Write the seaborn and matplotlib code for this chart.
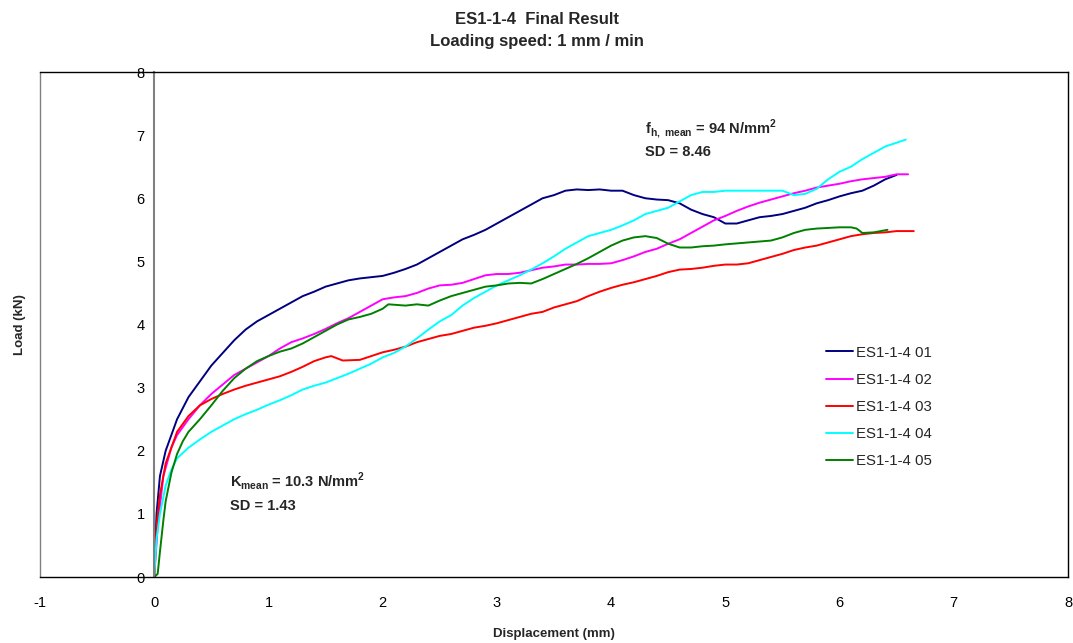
import pandas as pd
import seaborn as sns
import matplotlib.pyplot as plt

# Load-displacement readings for each specimen (mm, kN)
x01 = [0, 0.02, 0.05, 0.1, 0.2, 0.3, 0.4, 0.5, 0.6, 0.7, 0.8, 0.9, 1.0, 1.1, 1.2, 1.3, 1.4, 1.5, 1.6, 1.7, 1.8, 1.9,
       2.0, 2.1, 2.2, 2.3, 2.4, 2.5, 2.6, 2.7, 2.8, 2.9, 3.0, 3.1, 3.2, 3.3, 3.4, 3.5, 3.6, 3.7, 3.8, 3.9, 4.0, 4.1,
       4.2, 4.3, 4.4, 4.5, 4.6, 4.7, 4.8, 4.9, 5.0, 5.1, 5.2, 5.3, 5.4, 5.5, 5.6, 5.7, 5.8, 5.9, 6.0, 6.1, 6.2, 6.3,
       6.4, 6.5]
y01 = [0, 1.0, 1.6, 2.0, 2.5, 2.85, 3.1, 3.35, 3.55, 3.75, 3.92, 4.05, 4.15, 4.25, 4.35, 4.45, 4.52, 4.6, 4.65, 4.7,
       4.73, 4.75, 4.77, 4.82, 4.88, 4.95, 5.05, 5.15, 5.25, 5.35, 5.42, 5.5, 5.6, 5.7, 5.8, 5.9, 6.0, 6.05, 6.12,
       6.14, 6.13, 6.14, 6.12, 6.12, 6.05, 6.0, 5.98, 5.97, 5.92, 5.82, 5.75, 5.7, 5.6, 5.6, 5.65, 5.7, 5.72, 5.75,
       5.8, 5.85, 5.92, 5.97, 6.03, 6.08, 6.12, 6.2, 6.3, 6.37]

x02 = [0, 0.03, 0.08, 0.15, 0.2, 0.3, 0.4, 0.5, 0.6, 0.7, 0.8, 0.9, 1.0, 1.1, 1.2, 1.3, 1.4, 1.5, 1.6, 1.7, 1.8,
       1.9, 2.0, 2.1, 2.2, 2.3, 2.4, 2.5, 2.6, 2.7, 2.8, 2.9, 3.0, 3.1, 3.2, 3.3, 3.4, 3.5, 3.6, 3.7, 3.8, 3.9, 4.0,
       4.1, 4.2, 4.3, 4.4, 4.5, 4.6, 4.7, 4.8, 4.9, 5.0, 5.1, 5.2, 5.3, 5.4, 5.5, 5.6, 5.7, 5.8, 5.9, 6.0, 6.1, 6.2,
       6.3, 6.4, 6.5, 6.6]
y02 = [0, 0.8, 1.6, 2.05, 2.25, 2.5, 2.72, 2.9, 3.05, 3.2, 3.3, 3.4, 3.5, 3.62, 3.72, 3.78, 3.85, 3.93, 4.02, 4.1,
       4.2, 4.3, 4.4, 4.43, 4.45, 4.5, 4.57, 4.62, 4.63, 4.66, 4.72, 4.78, 4.8, 4.8, 4.82, 4.86, 4.9, 4.92, 4.95,
       4.95, 4.96, 4.96, 4.97, 5.02, 5.08, 5.15, 5.2, 5.28, 5.35, 5.45, 5.55, 5.65, 5.72, 5.8, 5.87, 5.93, 5.98,
       6.03, 6.08, 6.12, 6.17, 6.2, 6.23, 6.27, 6.3, 6.32, 6.34, 6.38, 6.38]

x03 = [0, 0.02, 0.05, 0.1, 0.15, 0.2, 0.3, 0.4, 0.5, 0.6, 0.7, 0.8, 0.9, 1.0, 1.1, 1.2, 1.3, 1.4, 1.5, 1.55, 1.65,
       1.8, 1.9, 2.0, 2.1, 2.2, 2.3, 2.4, 2.5, 2.6, 2.7, 2.8, 2.9, 3.0, 3.1, 3.2, 3.3, 3.4, 3.5, 3.6, 3.7, 3.8, 3.9,
       4.0, 4.1, 4.2, 4.3, 4.4, 4.5, 4.6, 4.7, 4.8, 4.9, 5.0, 5.1, 5.2, 5.3, 5.4, 5.5, 5.6, 5.7, 5.8, 5.9, 6.0, 6.1,
       6.2, 6.3, 6.4, 6.5, 6.65]
y03 = [0, 0.8, 1.3, 1.8, 2.05, 2.3, 2.55, 2.72, 2.82, 2.9, 2.97, 3.03, 3.08, 3.13, 3.18, 3.25, 3.33, 3.42, 3.48,
       3.5, 3.43, 3.44, 3.5, 3.56, 3.6, 3.65, 3.72, 3.77, 3.82, 3.85, 3.9, 3.95, 3.98, 4.02, 4.07, 4.12, 4.17, 4.2,
       4.27, 4.32, 4.37, 4.45, 4.52, 4.58, 4.63, 4.67, 4.72, 4.77, 4.83, 4.87, 4.88, 4.9, 4.93, 4.95, 4.95, 4.97,
       5.02, 5.07, 5.12, 5.18, 5.22, 5.25, 5.3, 5.35, 5.4, 5.43, 5.45, 5.46, 5.48, 5.48]

x04 = [0, 0.02, 0.05, 0.1, 0.15, 0.2, 0.3, 0.4, 0.5, 0.6, 0.7, 0.8, 0.9, 1.0, 1.1, 1.2, 1.3, 1.4, 1.5, 1.6, 1.7,
       1.8, 1.9, 2.0, 2.1, 2.2, 2.3, 2.4, 2.5, 2.6, 2.7, 2.8, 2.9, 3.0, 3.1, 3.2, 3.3, 3.4, 3.5, 3.6, 3.7, 3.8, 3.9,
       4.0, 4.1, 4.2, 4.3, 4.4, 4.5, 4.6, 4.7, 4.8, 4.9, 5.0, 5.2, 5.4, 5.5, 5.6, 5.7, 5.8, 5.9, 6.0, 6.1, 6.2, 6.3,
       6.4, 6.5, 6.58]
y04 = [0, 0.6, 1.0, 1.45, 1.7, 1.88, 2.05, 2.18, 2.3, 2.4, 2.5, 2.58, 2.65, 2.73, 2.8, 2.88, 2.97, 3.03, 3.08, 3.15,
       3.22, 3.3, 3.38, 3.48, 3.55, 3.65, 3.78, 3.92, 4.05, 4.15, 4.3, 4.42, 4.52, 4.62, 4.7, 4.78, 4.87, 4.97, 5.08,
       5.2, 5.3, 5.4, 5.45, 5.5, 5.57, 5.65, 5.75, 5.8, 5.85, 5.95, 6.05, 6.1, 6.1, 6.12, 6.12, 6.12, 6.12, 6.05,
       6.07, 6.15, 6.3, 6.42, 6.5, 6.62, 6.72, 6.82, 6.88, 6.93]

x05 = [0, 0.03, 0.05, 0.08, 0.1, 0.15, 0.2, 0.25, 0.3, 0.4, 0.5, 0.6, 0.7, 0.8, 0.9, 1.0, 1.1, 1.2, 1.3, 1.4, 1.5,
       1.6, 1.7, 1.8, 1.9, 2.0, 2.05, 2.2, 2.3, 2.4, 2.5, 2.6, 2.7, 2.8, 2.9, 3.0, 3.1, 3.2, 3.3, 3.4, 3.5, 3.6, 3.7,
       3.8, 3.9, 4.0, 4.1, 4.2, 4.3, 4.4, 4.5, 4.6, 4.7, 4.8, 4.9, 5.0, 5.2, 5.4, 5.5, 5.6, 5.7, 5.8, 5.9, 6.0, 6.1,
       6.15, 6.2, 6.3, 6.42]
y05 = [0, 0.05, 0.4, 0.9, 1.2, 1.65, 1.95, 2.15, 2.3, 2.5, 2.72, 2.95, 3.15, 3.3, 3.42, 3.5, 3.57, 3.62, 3.7, 3.8,
       3.9, 4.0, 4.08, 4.12, 4.17, 4.25, 4.32, 4.3, 4.32, 4.3, 4.38, 4.45, 4.5, 4.55, 4.6, 4.62, 4.65, 4.66, 4.65,
       4.72, 4.8, 4.88, 4.96, 5.05, 5.15, 5.25, 5.33, 5.38, 5.4, 5.37, 5.28, 5.22, 5.22, 5.24, 5.25, 5.27, 5.3,
       5.33, 5.38, 5.45, 5.5, 5.52, 5.53, 5.54, 5.54, 5.52, 5.45, 5.46, 5.5]

names = ['ES1-1-4 01', 'ES1-1-4 02', 'ES1-1-4 03', 'ES1-1-4 04', 'ES1-1-4 05']
colors = ['#000080', '#FF00FF', '#FF0000', '#00FFFF', '#008000']

# Build long-form table for seaborn
frames = []
for name, xs, ys in zip(names, [x01, x02, x03, x04, x05], [y01, y02, y03, y04, y05]):
    frames.append(pd.DataFrame({'disp': xs, 'load': ys, 'specimen': name}))
df = pd.concat(frames, ignore_index=True)

sns.set_style('white')
plt.rcParams['font.family'] = ['Liberation Sans', 'DejaVu Sans']
plt.rcParams['axes.unicode_minus'] = False
plt.rcParams['mathtext.fontset'] = 'custom'
plt.rcParams['mathtext.rm'] = 'Liberation Sans'
plt.rcParams['mathtext.bf'] = 'Liberation Sans:bold'

fig = plt.figure(figsize=(10.73, 6.43), dpi=100)
ax = fig.add_axes([0.0373, 0.1026, 0.958, 0.7854])

sns.lineplot(data=df, x='disp', y='load', hue='specimen', palette=dict(zip(names, colors)),
             sort=False, estimator=None, linewidth=1.4, ax=ax)

ax.set_xlim(-1, 8)
ax.set_ylim(0, 8)
ax.set_xticks(range(-1, 9))
ax.set_yticks(range(0, 9))

# Excel-like axes: y axis crosses at x=0
ax.spines['left'].set_position(('data', 0))
ax.spines['left'].set_color('#808080')
ax.spines['left'].set_linewidth(1.5)
for s in ['top', 'right', 'bottom']:
    ax.spines[s].set_color('black')
    ax.spines[s].set_linewidth(1.0)
ax.plot([0, 0], [0, 1], transform=ax.transAxes, color='#808080', lw=1.0, clip_on=False)
ax.tick_params(axis='both', direction='out', length=4, width=1, labelsize=10.5, colors='black')
ax.tick_params(axis='x', pad=10)
ax.tick_params(axis='y', pad=3)

ax.set_xlabel('Displacement (mm)', fontsize=9.5, fontweight='bold')
ax.xaxis.set_label_coords(0.5, -0.1)
ax.set_ylabel('Load (kN)', fontsize=9.5, fontweight='bold')
ax.yaxis.set_label_coords(-0.0135, 0.5)
fig.text(0.5005, 0.9526, 'ES1-1-4  Final Result\nLoading speed: 1 mm / min', fontsize=12,
         fontweight='bold', ha='center', va='center', linespacing=1.65)

ax.text(4.3, 7.04, r'$\mathbf{f}_{\mathbf{h,\ mean}}$ = 94 N/mm$^{\mathbf{2}}$', fontsize=10.5, fontweight='bold')
ax.text(4.3, 6.67, 'SD = 8.46', fontsize=10.5, fontweight='bold')
ax.text(0.66, 1.43, r'$\mathbf{K}_{\mathbf{mean}}$ = 10.3 N/mm$^{\mathbf{2}}$', fontsize=10.5, fontweight='bold')
ax.text(0.66, 1.06, 'SD = 1.43', fontsize=10.5, fontweight='bold')

ax.legend(title=None, frameon=False, loc='upper left', bbox_to_anchor=(0.751, 0.485),
          fontsize=10.8, labelspacing=0.88, handlelength=1.8, handletextpad=0.2)

plt.savefig('out.png', dpi=100)
